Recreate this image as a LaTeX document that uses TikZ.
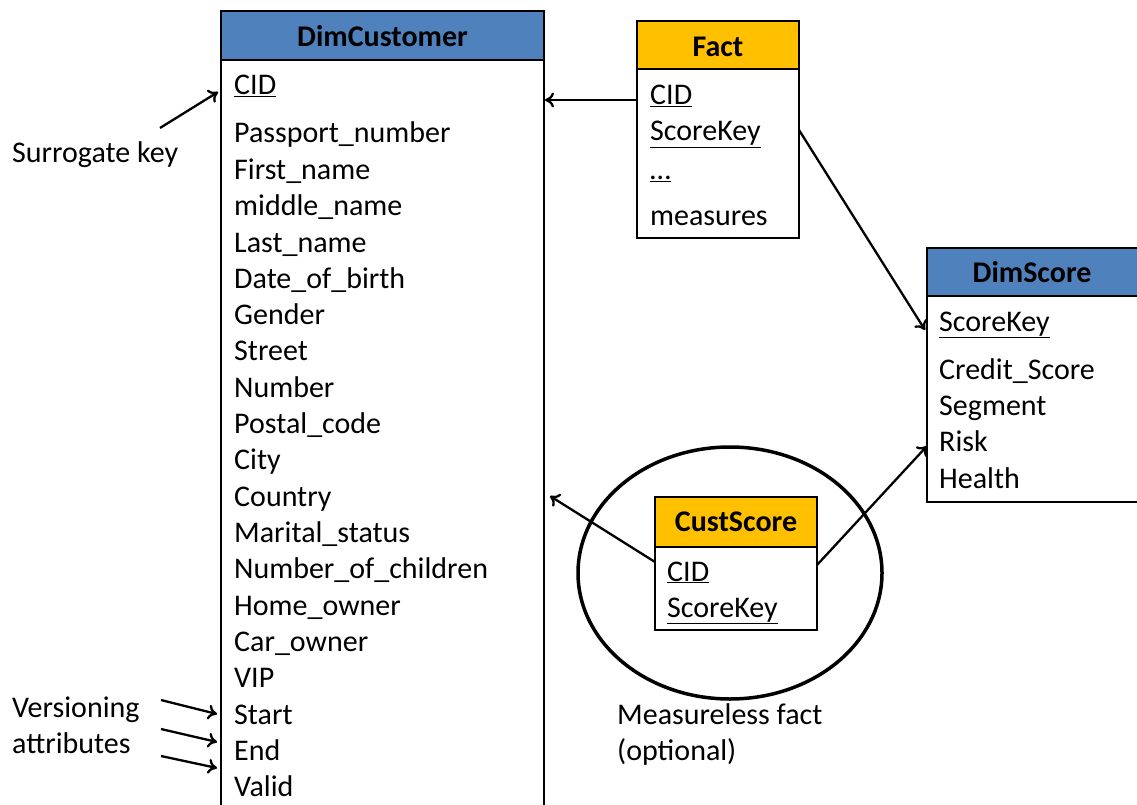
\documentclass[tikz,border=0pt]{standalone}
\usepackage{fontspec}
\setmainfont{Carlito}
\usetikzlibrary{arrows.meta}
\definecolor{hdrblue}{HTML}{4F81BD}
\definecolor{hdrorange}{HTML}{FFC000}
\tikzset{
  tbl/.style={draw=black, line width=2pt, fill=white},
  hdrb/.style={draw=black, line width=2pt, fill=hdrblue},
  hdro/.style={draw=black, line width=2pt, fill=hdrorange},
  ttl/.style={font=\fontsize{30}{36}\selectfont\bfseries, inner sep=0pt},
  fld/.style={font=\fontsize{30}{36}\selectfont, anchor=base west, inner sep=0pt},
  lbl/.style={font=\fontsize{30}{36}\selectfont, anchor=base west, inner sep=0pt, align=left},
  link/.style={line width=2.3pt, -{To[length=9pt,width=15pt]}},
}
\newcommand{\ul}[1]{\underline{#1}}
\begin{document}
\begin{tikzpicture}[x=1pt,y=-1pt]
\useasboundingbox (0,0) rectangle (1137,805);
\clip (0,0) rectangle (1137,805);

% DimCustomer table
\draw[tbl] (221,11) rectangle (544,830);
\draw[hdrb] (221,11) rectangle (544,60);
\node[ttl] (dc) at (382.5,36) {DimCustomer};
\node[fld] (dcCID) at (234,95) {\ul{CID}};
\node[fld] at (234,143) {Passport\_number};
\node[fld] at (234,179) {First\_name};
\node[fld] at (234,215) {middle\_name};
\node[fld] at (234,252) {Last\_name};
\node[fld] at (234,288) {Date\_of\_birth};
\node[fld] at (234,324) {Gender};
\node[fld] at (234,360) {Street};
\node[fld] at (234,397) {Number};
\node[fld] at (234,433) {Postal\_code};
\node[fld] at (234,469) {City};
\node[fld] at (234,506) {Country};
\node[fld] at (234,542) {Marital\_status};
\node[fld] at (234,578) {Number\_of\_children};
\node[fld] at (234,615) {Home\_owner};
\node[fld] at (234,651) {Car\_owner};
\node[fld] at (234,687) {VIP};
\node[fld] (dcStart) at (234,724) {Start};
\node[fld] (dcEnd) at (234,760) {End};
\node[fld] (dcValid) at (234,796) {Valid};
\coordinate (dcR1) at (545,100);
\coordinate (dcR2) at (550,496);
\coordinate (dcSK) at (218,92);
\coordinate (dcS) at (217,714);
\coordinate (dcE) at (217,742);
\coordinate (dcV) at (217,768);

% Fact table
\draw[tbl] (637,21) rectangle (799,238);
\draw[hdro] (637,21) rectangle (799,69);
\node[ttl] (fact) at (718,47) {Fact};
\node[fld] at (650,105) {\ul{CID}};
\node[fld] at (650,141) {\ul{ScoreKey}};
\node[fld] at (650,180) {\ul{…}};
\node[fld] at (650,225) {measures};
\coordinate (fCID) at (637,100);
\coordinate (fSK) at (799,130);

% DimScore table
\draw[tbl] (927,248) rectangle (1160,502);
\draw[hdrb] (927,248) rectangle (1160,296);
\node[ttl] (ds) at (1032,272) {DimScore};
\node[fld] at (939,331) {\ul{ScoreKey}};
\node[fld] at (939,379) {Credit\_Score};
\node[fld] at (939,415) {Segment};
\node[fld] at (939,451) {Risk};
\node[fld] at (939,488) {Health};
\coordinate (dsSK) at (925,330);
\coordinate (dsL) at (927,446);

% Measureless fact
\draw[line width=3.5pt] (730,573) ellipse [x radius=152, y radius=126];
\draw[tbl] (655,497) rectangle (817,630);
\draw[hdro] (655,497) rectangle (817,547);
\node[ttl] (cs) at (736,522) {CustScore};
\node[fld] at (667,581) {\ul{CID}};
\node[fld] at (667,617) {\ul{ScoreKey}};
\coordinate (csL) at (655,562);
\coordinate (csR) at (817,565);

% Connectors
\draw[link] (fCID) -- (dcR1);
\draw[link] (fSK) -- (dsSK);
\draw[link] (csL) -- (dcR2);
\draw[link] (csR) -- (dsL);

% Annotations
\node[lbl] (sk) at (12,163) {Surrogate key};
\coordinate (skA) at (160,128);
\draw[link] (skA) -- (dcSK);

\node[lbl] (ver) at (12,753) {Versioning\\attributes};
\coordinate (v1) at (161,700);
\coordinate (v2) at (161,729);
\coordinate (v3) at (161,756);
\draw[link] (v1) -- (dcS);
\draw[link] (v2) -- (dcE);
\draw[link] (v3) -- (dcV);

\node[lbl] (mf) at (617,760) {Measureless fact\\(optional)};
\end{tikzpicture}
\end{document}
